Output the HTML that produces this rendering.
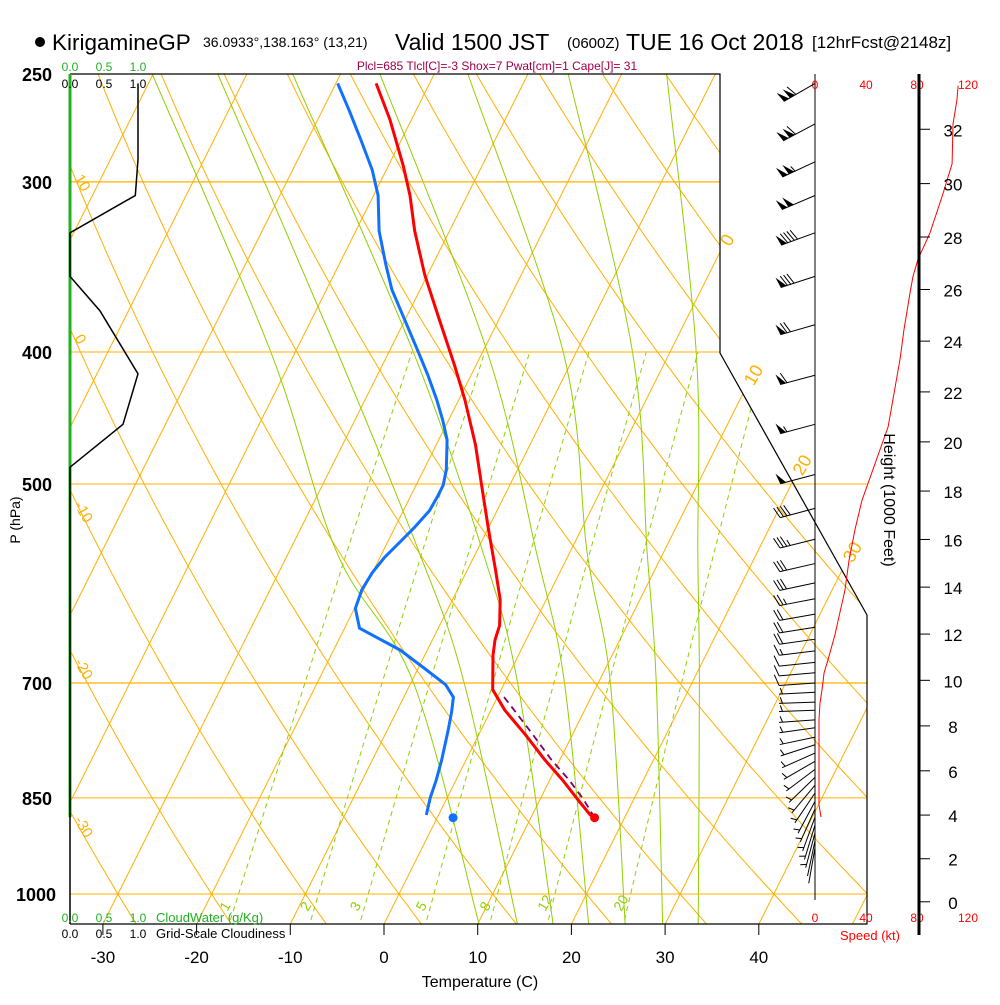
<!DOCTYPE html>
<html><head><meta charset="utf-8"><style>
html,body{margin:0;padding:0;background:#fff;}
body{width:1000px;height:1000px;overflow:hidden;font-family:"Liberation Sans",sans-serif;}
svg text{font-family:"Liberation Sans",sans-serif;}
</style></head><body>
<svg id="chart" width="1000" height="1000" viewBox="0 0 1000 1000" xmlns="http://www.w3.org/2000/svg">
<defs><clipPath id="plotclip"><polygon points="70,74 720,74 720,353 867,615 867,924 70,924"/></clipPath></defs>
<g>
<circle cx="40" cy="42" r="5" fill="#000"/>
<text x="52" y="50" font-size="22.5">KirigamineGP</text>
<text x="203" y="47" font-size="14">36.0933°,138.163° (13,21)</text>
<text x="395" y="50" font-size="23">Valid 1500 JST</text>
<text x="567" y="48" font-size="15">(0600Z)</text>
<text x="626" y="50" font-size="23">TUE 16 Oct 2018</text>
<text x="812" y="48" font-size="17">[12hrFcst@2148z]</text>
</g>
<text x="497" y="70" font-size="12" fill="#a0004a" text-anchor="middle">Plcl=685 Tlcl[C]=-3 Shox=7 Pwat[cm]=1 Cape[J]= 31</text>
<g id="bg" clip-path="url(#plotclip)"></g>
<g id="fg"></g>
</svg>
<script>
// ---- data ----
const tempP = [254,270,292,307,326,351,379,409,434,468,501,540,578,608,635,651,668,708,733,764,797,825,853,875,879];
const tempT = [-45.7,-42.3,-38.4,-36.1,-33.7,-30.3,-26.3,-22.3,-19.3,-15.8,-13.0,-9.9,-7.0,-4.9,-3.6,-3.3,-2.7,-0.9,1.5,5.0,8.4,11.4,14.1,16.2,16.8];
const dewP = [254,266,280,294,307,326,345,360,379,399,416,434,449,464,488,501,511,523,538,552,566,581,598,617,638,662,683,702,717,735,758,797,825,850,875];
const dewT = [-49.8,-47.1,-44.2,-41.5,-39.5,-37.5,-35.0,-33.0,-30.0,-27.0,-24.6,-22.3,-20.6,-19.1,-17.6,-17.1,-17.1,-17.2,-17.9,-18.7,-19.5,-20.0,-20.2,-19.9,-18.4,-12.9,-9.3,-6.2,-4.7,-4.1,-3.5,-2.6,-2.1,-1.8,-1.3];
const sfcP = 879, sfcT = 16.8, sfcTd = 1.7;
const parcelP = [879,853,825,797,764,733,715];
const parcelT = [16.8,14.7,12.1,9.1,5.8,2.5,0.5];
const cloudP = [254,289,307,327,352,373,415,452,486,879];
const cloudF = [1.0,1.0,0.96,0,0,0.44,1.0,0.78,0,0];
const cwP = [250,878];
const cwV = [0,0];
const speedP = [878,860,825,745,724,708,688,673,645,621,598,569,540,514,454,405,385,362,352,342,327,306,291,272,261,255];
const speedKt = [4.7,3.1,3.1,3.1,3.9,5.5,7.1,10.2,15.7,19.6,23.5,26.7,31.4,36.9,57.3,66.7,69.8,74.5,76.9,80.8,90.2,100.4,107.5,108.2,111.4,112.2];
const barbP = [254,272,290,307,327,352,382,416,452,492,521,549,572,591,607,623,637,650,663,676,688,700,711,723,733,745,755,767,777,788,799,810,821,832,843,855,866,878,890,902,914,925];
const barbKt = [110,110,105,100,90,80,70,60,55,50,40,35,30,28,25,22,20,18,15,12,10,8,6,5,5,5,5,5,5,5,4,4,4,4,3,3,3,3,3,3,2,2];
const barbDir = [240,242,245,247,250,252,254,255,255,255,255,256,257,258,259,260,261,262,263,264,265,266,267,268,268,266,262,258,252,246,240,233,226,220,214,208,204,200,197,195,192,190];
const pTicks = [250,300,400,500,700,850,1000];
const tTicks = [-30,-20,-10,0,10,20,30,40];
const htTicks = [0,2,4,6,8,10,12,14,16,18,20,22,24,26,28,30,32];
const spdTicks = [0,40,80,120];
const mixW = [1,2,3,5,8,12,20];
// moist adiabats: temperature at fixed pressure levels
const moistLevels = [250,400,562,700,1051];
const moist1 = [-70.1,-42.6,-24.8,-9.7,10.1];
const moist2 = [-63.1,-35.5,-16.0,-4.3,14.2];
const moist3 = [-55.1,-27.4,-9.2,1.4,18.0];
const moist4 = [-45.8,-19.5,-3.5,6.4,21.8];
const moist5 = [-36.4,-11.4,1.9,11.3,25.7];
const moist6 = [-25.7,-4.0,8.3,16.2,29.7];
const moist7 = [-15.2,2.8,13.7,20.8,33.5];
const dryTheta = [-30,-20,-10,0,10,20,30,40,50,60,70,80,90,100,110,120,130,140,150,160];
const isoT = [-110,-100,-90,-80,-70,-60,-50,-40,-30,-20,-10,0,10,20,30,40,50];

// ---- scales ----
const Y = p => 74 + 591.5*Math.log(p/250);
const X = (T,p) => 384 + 9.37*T + 0.5*(924 - Y(p));
const SX = kt => 815 + kt*1.275;
const NS='http://www.w3.org/2000/svg';
const bg=document.getElementById('bg'), fg=document.getElementById('fg');
function mk(tag, attrs, parent){const e=document.createElementNS(NS,tag);for(const k in attrs)e.setAttribute(k,attrs[k]);(parent||fg).appendChild(e);return e;}
function path(pts){return pts.map((q,i)=>(i?'L':'M')+q[0].toFixed(1)+','+q[1].toFixed(1)).join('');}
function smooth(pts){let d='M'+pts[0][0].toFixed(1)+','+pts[0][1].toFixed(1);
  for(let i=0;i<pts.length-1;i++){const p0=pts[Math.max(0,i-1)],p1=pts[i],p2=pts[i+1],p3=pts[Math.min(pts.length-1,i+2)];
    const c1=[p1[0]+(p2[0]-p0[0])/6,p1[1]+(p2[1]-p0[1])/6],c2=[p2[0]-(p3[0]-p1[0])/6,p2[1]-(p3[1]-p1[1])/6];
    d+='C'+c1.map(v=>v.toFixed(1)).join(',')+' '+c2.map(v=>v.toFixed(1)).join(',')+' '+p2.map(v=>v.toFixed(1)).join(',');}
  return d;}
function txt(x,y,s,attrs,parent){const e=mk('text',Object.assign({x:x,y:y},attrs||{}),parent);e.textContent=s;return e;}

// isobars
pTicks.forEach(p=>{
  const right = p<=400?720:867;
  const l=mk('line',{x1:70,x2:right,y1:Y(p),y2:Y(p),stroke:'#ffb000','stroke-width':(p==300||p==700)?1.3:1},fg);
  
  
});
// isotherms
isoT.forEach(T=>{
  const l=mk('path',{d:path([[X(T,1060),Y(1060)],[X(T,240),Y(240)]]),stroke:'#ffb000','stroke-width':1,fill:'none'},bg);
  
  
});
// dry adiabats
dryTheta.forEach(th=>{
  const pts=[];for(let p=1060;p>=240;p-=10){const T=(th+273.15)*Math.pow(p/1000,0.2857)-273.15;pts.push([X(T,p),Y(p)]);}
  const l=mk('path',{d:path(pts),stroke:'#ffb000','stroke-width':1,fill:'none'},bg);
  
  
});
// moist adiabats
[moist1,moist2,moist3,moist4,moist5,moist6,moist7].forEach(arr=>{
  const pts=moistLevels.map((p,i)=>[X(arr[i],p),Y(p)]);
  const l=mk('path',{d:smooth(pts),stroke:'#90d000','stroke-width':1,fill:'none'},bg);
  
  
});
// mixing ratio lines
function Tmix(w,p){const e=w*p/(622+w);const L=Math.log(e/6.112);return 243.5*L/(17.67-L);}
mixW.forEach(w=>{
  const pts=[];for(let p=1060;p>=400;p-=10)pts.push([X(Tmix(w,p),p),Y(p)]);
  const l=mk('path',{d:path(pts),stroke:'#90d000','stroke-width':1,'stroke-dasharray':'5,4',fill:'none'},bg);
  
  
  const lx=X(Tmix(w,1040),1040)-4;
  const t=txt(lx,912,String(w),{'font-size':14,fill:'#90d000',transform:'rotate(-60 '+lx+' 912)'},fg);
  
  
});
// isotherm labels
[[0,243],[10,378],[20,468],[30,555]].forEach(a=>{
  const x=X(a[0],250*Math.exp((a[1]-74)/591.5))+8;
  const t=txt(x,a[1],String(a[0]),{'font-size':18,fill:'#ffb000','text-anchor':'middle',transform:'rotate(-60 '+x+' '+a[1]+')'},fg);
  
  
});
// dry adiabat labels on left
[[10,178],[0,338],[-10,505],[-20,662],[-30,820]].forEach(a=>{
  const t=txt(74,a[1],String(a[0]),{'font-size':15,fill:'#ffb000',transform:'rotate(60 74 '+a[1]+')'},fg);
  
  
});
// frame
const fr=mk('polyline',{points:'70,924 867,924 867,615 720,353 720,74 70,74',fill:'none',stroke:'#000','stroke-width':1.2});


const la=mk('line',{x1:70,x2:70,y1:817,y2:924,stroke:'#000','stroke-width':1.5});


// cloudwater profile
const cw=mk('path',{d:path(cwP.map((p,i)=>[70+cwV[i]*68,Y(p)])),stroke:'#20b020','stroke-width':3,fill:'none'});


// cloudiness
const cl=mk('path',{d:path(cloudP.map((p,i)=>[70+cloudF[i]*68,Y(p)])),stroke:'#000','stroke-width':1.5,fill:'none'});


// soundings
const tl=mk('path',{d:path(tempP.map((p,i)=>[X(tempT[i],p),Y(p)])),stroke:'#ff0000','stroke-width':3,fill:'none','stroke-linejoin':'round'});


const pl=mk('path',{d:path(parcelP.map((p,i)=>[X(parcelT[i],p),Y(p)])),stroke:'#800060','stroke-width':1.8,fill:'none','stroke-dasharray':'7,5'});


const dl=mk('path',{d:path(dewP.map((p,i)=>[X(dewT[i],p),Y(p)])),stroke:'#1070ff','stroke-width':3,fill:'none','stroke-linejoin':'round'});


const sd1=mk('circle',{cx:X(sfcT,sfcP),cy:Y(sfcP),r:4.5,fill:'#ff0000'});


const sd2=mk('circle',{cx:X(sfcTd,sfcP),cy:Y(sfcP),r:4.5,fill:'#1070ff'});


// pressure labels
pTicks.forEach(p=>{
  const t=txt(p==1000?56:52,Y(p)+7,String(p),{'font-size':18,'text-anchor':'end','font-weight':'bold'});
  
  
});
const pt=txt(20,520,'P (hPa)',{'font-size':14,'text-anchor':'middle',transform:'rotate(-90 20 520)'});


// temperature ticks
tTicks.forEach(T=>{
  const x=384+9.37*T;
  const tk=mk('line',{x1:x,x2:x,y1:924,y2:935,stroke:'#000'});
  
  
  const t=txt(x,963,String(T),{'font-size':17,'text-anchor':'middle'});
  
  
});
const xt=txt(480,987,'Temperature (C)',{'font-size':16,'text-anchor':'middle'});


// cloud scale labels
[['0.0',70],['0.5',104],['1.0',138]].forEach(a=>{
  let t=txt(a[1],71,a[0],{'font-size':12,fill:'#20b020','text-anchor':'middle'});
  
  
  t=txt(a[1],88,a[0],{'font-size':12,'text-anchor':'middle'});
  
  
  t=txt(a[1],922,a[0],{'font-size':12,fill:'#20b020','text-anchor':'middle'});
  
  
  t=txt(a[1],938,a[0],{'font-size':12,'text-anchor':'middle'});
  
  
});
let t1=txt(156,922,'CloudWater (g/Kg)',{'font-size':13,fill:'#20b020'});


t1=txt(156,938,'Grid-Scale Cloudiness',{'font-size':13});


// speed axis
const sa=mk('line',{x1:815,x2:815,y1:74,y2:900,stroke:'#000','stroke-width':1});


spdTicks.forEach(s=>{
  let t=txt(SX(s),89,String(s),{'font-size':12,fill:'#ff0000','text-anchor':'middle'});
  
  
  t=txt(SX(s),922,String(s),{'font-size':12,fill:'#ff0000','text-anchor':'middle'});
  
  
});
t1=txt(870,940,'Speed (kt)',{'font-size':13,fill:'#ff0000','text-anchor':'middle'});


const sp=mk('path',{d:path(speedP.map((p,i)=>[SX(speedKt[i]),Y(p)])),stroke:'#ff0000','stroke-width':1,fill:'none'});


// height axis
const ha=mk('line',{x1:919,x2:919,y1:74,y2:935,stroke:'#000','stroke-width':3});


htTicks.forEach(h=>{
  const m=h*1000*0.3048;const p=1013.25*Math.pow(1-m/44330.8,5.2559);const y=Y(p);
  const tk=mk('line',{x1:919,x2:930,y1:y,y2:y,stroke:'#000'});
  
  
  const t=txt(953,y+7,String(h),{'font-size':17,'text-anchor':'middle'});
  
  
});
t1=txt(884,500,'Height (1000 Feet)',{'font-size':16,'text-anchor':'middle',transform:'rotate(90 884 500)'});


// wind barbs
barbP.forEach((p,i)=>{
  const g=mk('g',{});
  
  
  const d=barbDir[i]*Math.PI/180, L=36;
  const ux=Math.sin(d), uy=-Math.cos(d);
  const ox=815, oy=Y(p), tx=ox+ux*L, ty=oy+uy*L;
  const nx=-uy, ny=ux;
  const sgn = ny>0?-1:1;
  const px=nx*sgn, py=ny*sgn;
  mk('line',{x1:ox,y1:oy,x2:tx,y2:ty,stroke:'#000','stroke-width':1},g);
  let s=Math.round(barbKt[i]/5)*5, pos=0;
  while(s>=50){const bx=tx-ux*pos,by=ty-uy*pos;
    mk('polygon',{points:[bx,by,bx-ux*6,by-uy*6,bx+px*11+ux*2,by+py*11+uy*2].join(','),fill:'#000'},g);pos+=7;s-=50;}
  while(s>=10){const bx=tx-ux*pos,by=ty-uy*pos;
    mk('line',{x1:bx,y1:by,x2:bx+px*11+ux*4,y2:by+py*11+uy*4,stroke:'#000','stroke-width':1},g);pos+=3.5;s-=10;}
  if(s>=5){if(pos==0)pos=3.5;const bx=tx-ux*pos,by=ty-uy*pos;
    mk('line',{x1:bx,y1:by,x2:bx+px*6+ux*2,y2:by+py*6+uy*2,stroke:'#000','stroke-width':1},g);}
});
</script>
</body></html>
